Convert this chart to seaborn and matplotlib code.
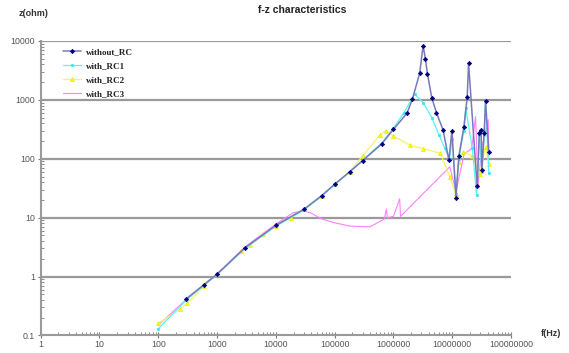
import numpy as np
import pandas as pd
import matplotlib
matplotlib.use("Agg")
import matplotlib.pyplot as plt
import matplotlib.ticker as mticker
import seaborn as sns

# ---- data ----
f_norc = [300, 600, 1000, 3000, 10000, 30000, 60000, 1e5, 1.8e5, 3e5, 6.3e5, 1e6, 1.7e6, 2.1e6,
          2.8e6, 3.2e6, 3.5e6, 3.8e6, 4.5e6, 5.4e6, 7e6, 8.8e6, 9.9e6, 1.16e7, 1.3e7, 1.58e7,
          1.8e7, 1.9e7, 2.66e7, 2.9e7, 3.1e7, 3.2e7, 3.5e7, 3.7e7, 4.2e7]
z_norc = [0.42, 0.73, 1.1, 3.1, 7.4, 13.9, 23.6, 37, 60, 93, 178, 316, 590, 1020,
          2830, 8300, 5000, 2760, 1080, 607, 308, 95, 300, 22, 112, 343,
          1100, 4180, 34, 271, 308, 64, 278, 960, 129]

f_rc1 = [100, 300, 600, 1000, 3000, 10000, 30000, 60000, 1e5, 1.8e5, 3e5, 6.3e5, 1e6, 1.5e6,
         2.3e6, 3.2e6, 4.5e6, 6e6, 7.5e6, 9e6, 1e7, 1.16e7, 1.3e7, 1.58e7, 1.7e7, 2.2e7,
         2.6e7, 2.9e7, 3.2e7, 3.5e7, 3.7e7, 4.2e7]
z_rc1 = [0.13, 0.40, 0.71, 1.08, 3.0, 7.2, 13.5, 23, 36, 60, 95, 185, 330, 600,
         1250, 900, 500, 250, 150, 98, 220, 25, 100, 300, 720, 150,
         24, 250, 60, 250, 960, 57]

f_rc2 = [100, 234, 310, 600, 1000, 2600, 3600, 6100, 10000, 17800, 30000, 60000, 1e5, 1.8e5,
         3e5, 5.9e5, 7.4e5, 1e6, 1.9e6, 3.2e6, 6.3e6, 9.1e6, 1.15e7, 1.3e7, 1.55e7, 2.2e7,
         2.96e7, 3.7e7, 4.2e7]
z_rc2 = [0.16, 0.28, 0.35, 0.70, 1.1, 2.7, 3.4, 5.2, 7.2, 9.8, 13.9, 23.6, 37, 60,
         112, 254, 300, 244, 170, 149, 124, 50, 25, 89, 132, 112,
         55, 161, 80]

f_rc3 = [100, 300, 1000, 3000, 10000, 20000, 30000, 40000, 60000, 1e5, 1.8e5, 4e5, 7e5, 7.6e5,
         7.9e5, 1e6, 1.28e6, 1.32e6, 9.1e6, 1.16e7, 1.6e7, 2.15e7, 2.5e7, 2.75e7, 3.2e7, 4.1e7, 4.2e7]
z_rc3 = [0.15, 0.41, 1.12, 3.2, 7.8, 12.2, 13.0, 12.0, 9.5, 8.2, 7.2, 7.0, 9.5, 14,
         10, 10.5, 21, 10.5, 73, 28, 120, 150, 520, 34, 160, 460, 110]

series_names = ["without_RC", "with_RC1", "with_RC2", "with_RC3"]
x_ticks = [1, 10, 100, 1000, 10000, 100000, 1000000, 10000000, 100000000]
x_labels = ["1", "10", "100", "1000", "10000", "100000", "1000000", "10000000", "100000000"]
y_ticks = [0.1, 1, 10, 100, 1000, 10000]
y_labels = ["0.1", "1", "10", "100", "1000", "10000"]

frames = []
for name, f, z in zip(series_names, [f_norc, f_rc1, f_rc2, f_rc3], [z_norc, z_rc1, z_rc2, z_rc3]):
    frames.append(pd.DataFrame({"f": f, "z": z, "series": name}))
df = pd.concat(frames, ignore_index=True)

sns.set_style("white")
plt.rcParams["font.family"] = ["Liberation Sans", "DejaVu Sans"]

fig = plt.figure(figsize=(5.69, 3.53), dpi=100)
ax = fig.add_axes([0.0715, 0.0496, 0.8265, 0.8343])

styles = {
    "without_RC": dict(color="#7878bc", marker="D", ms=2.2, mfc="#000080", mec="#000080", lw=1.1),
    "with_RC1": dict(color="#5ef2f2", marker="s", ms=1.4, mfc="#33e6e6", mec="#33e6e6", lw=0.9),
    "with_RC2": dict(color="#f5f560", marker="^", ms=2.8, mfc="#ffff00", mec="#e6e600", lw=0.9),
    "with_RC3": dict(color="#ff80ff", marker="", ms=0, mfc="#ff00ff", mec="#ff00ff", lw=0.8),
}
for name in ["with_RC3", "with_RC2", "with_RC1", "without_RC"]:
    st = styles[name]
    sub = df[df["series"] == name]
    sns.lineplot(data=sub, x="f", y="z", ax=ax, sort=False, estimator=None,
                 color=st["color"], lw=st["lw"], marker=st["marker"] or None,
                 markersize=st["ms"], markerfacecolor=st["mfc"], markeredgecolor=st["mec"],
                 markeredgewidth=0.5, label=name, zorder=3)

ax.set_xscale("log")
ax.set_yscale("log")
ax.set_xlim(1, 1e8)
ax.set_ylim(0.1, 10000)

for y in y_ticks[1:]:
    ax.axhline(y, color="#9a9a9a", lw=1.6, zorder=1)

ax.set_xticks(x_ticks)
ax.set_xticklabels(x_labels)
ax.set_yticks(y_ticks)
ax.set_yticklabels(y_labels)
ax.xaxis.set_minor_locator(mticker.LogLocator(base=10, subs=np.arange(2, 10), numticks=20))
ax.yaxis.set_minor_locator(mticker.LogLocator(base=10, subs=np.arange(2, 10), numticks=20))
ax.xaxis.set_minor_formatter(mticker.NullFormatter())
ax.yaxis.set_minor_formatter(mticker.NullFormatter())
ax.tick_params(axis="both", which="major", direction="inout", length=4, width=0.8,
               color="#777777", labelsize=6.3, labelcolor="#555555", bottom=True, left=True)
ax.tick_params(axis="both", which="minor", direction="in", length=2, width=0.6,
               color="#777777", bottom=True, left=True)
ax.tick_params(axis="x", pad=1.0)
ax.tick_params(axis="y", pad=2)

for s in ["top", "right"]:
    ax.spines[s].set_visible(False)
for s in ["left", "bottom"]:
    ax.spines[s].set_color("#9a9a9a")
    ax.spines[s].set_linewidth(1.5)

ax.set_xlabel("")
ax.set_ylabel("")

fig.text(302 / 569, 1 - 10 / 353, "f-z characteristics", ha="center", va="center",
         fontsize=7.5, fontweight="bold", color="#222222")
fig.text(34 / 569, 1 - 14 / 353, "z(ohm)", ha="center", va="center",
         fontsize=6.5, fontweight="bold", color="#333333")
fig.text(551 / 569, 1 - 333 / 353, "f(Hz)", ha="center", va="center",
         fontsize=6.5, fontweight="bold", color="#333333")

handles, labels = ax.get_legend_handles_labels()
order = [labels.index(n) for n in series_names]
leg = ax.legend([handles[i] for i in order], [labels[i] for i in order],
                loc="upper left", bbox_to_anchor=(0.03, 1.005), frameon=False,
                prop={"family": ["Liberation Serif"], "weight": "bold", "size": 6.5},
                handlelength=2.0, labelspacing=0.62, handletextpad=0.5)
for t in leg.get_texts():
    t.set_color("#222222")

fig.savefig("out.png", dpi=100, facecolor="white")
